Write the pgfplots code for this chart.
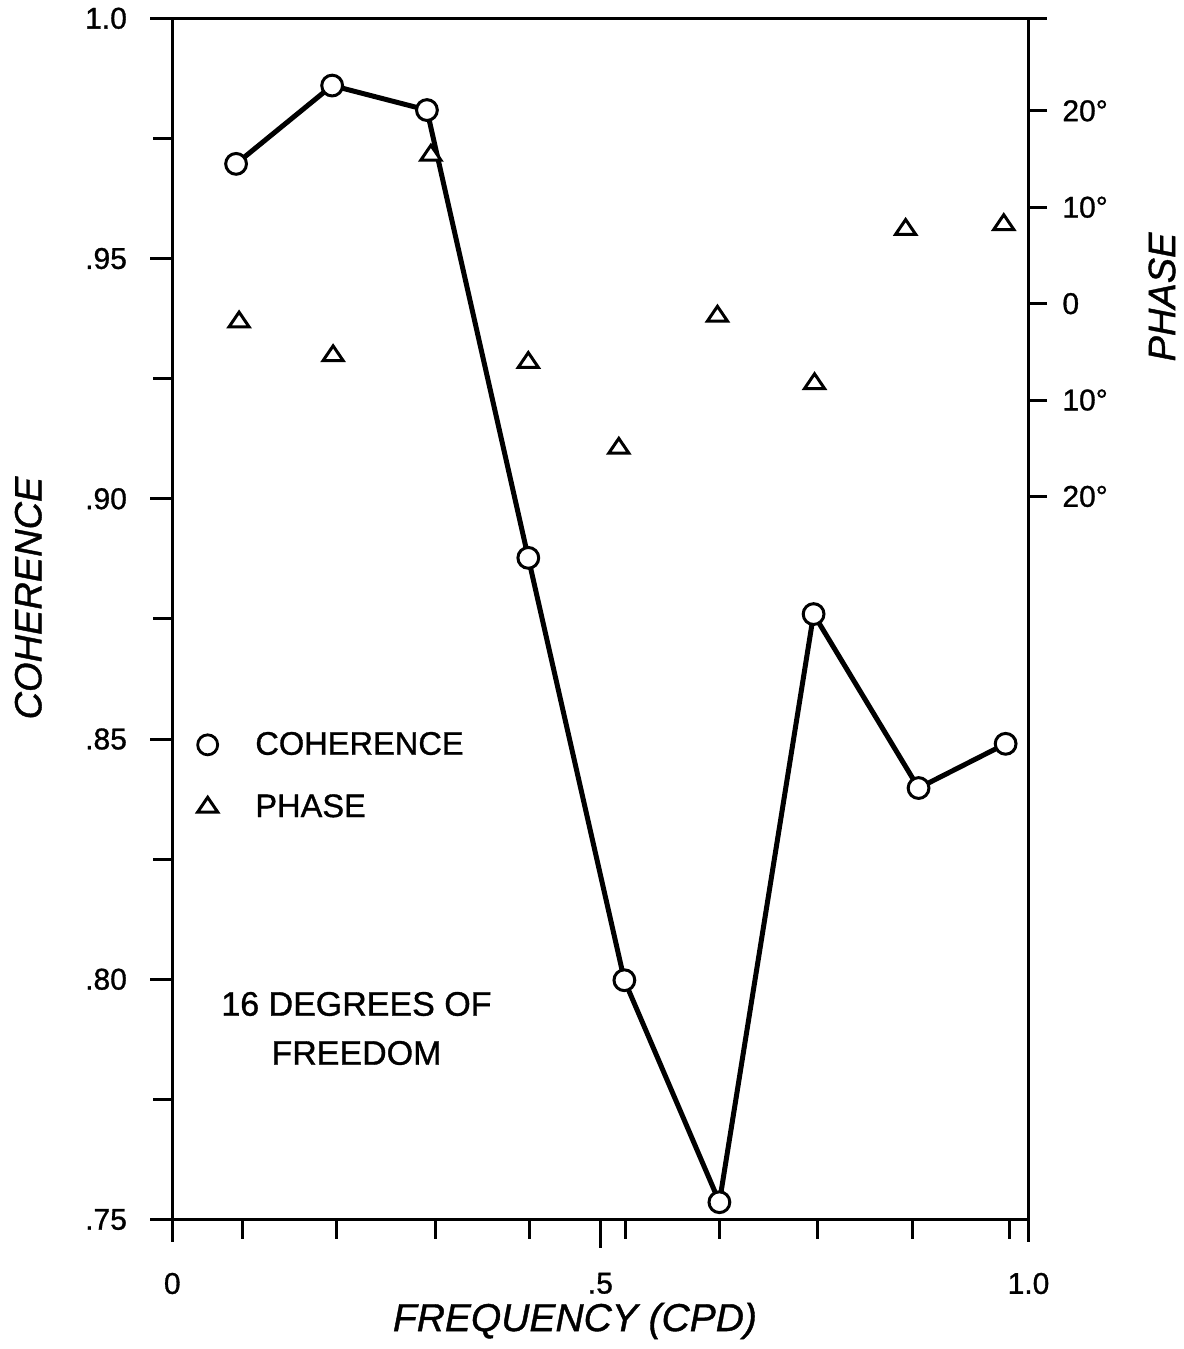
\documentclass[border=0pt]{standalone}
\usepackage{pgfplots}
\pgfplotsset{compat=1.18}
\usepackage{fontspec}
\setmainfont{Liberation Sans}[FakeBold=1.0]
\pgfplotsset{dotlegend/.style={legend image code/.code={\draw[##1] plot coordinates {(0bp,0bp)};}}}
\begin{document}
\begin{tikzpicture}
\begin{axis}[name=main, scale only axis, width=428.1bp, height=600.6bp,
 xmin=0, xmax=1, ymin=0.75, ymax=1.0, clip=false,
 axis line style={line width=1.5bp, black},
 tick style={line width=1.5bp, black},
 tick align=outside, xtick pos=bottom, ytick pos=left,
 major tick length=11bp, minor tick length=9.5bp,
 xtick={0,0.5,1}, xticklabels={0,.5,1.0},
 extra x ticks={0.5}, extra x tick labels={}, extra x tick style={major tick length=14bp},
 minor xtick={0.082,0.192,0.3075,0.417,0.529,0.639,0.754,0.864,0.978},
 ytick={0.75,0.8,0.85,0.9,0.95,1.0}, yticklabels={.75,.80,.85,.90,.95,1.0},
 minor ytick={0.775,0.825,0.875,0.925,0.975},
 ticklabel style={font=\fontsize{15bp}{17bp}\selectfont},
 xticklabel style={anchor=north, inner sep=0pt, yshift=-15.5bp},
 yticklabel style={anchor=east, inner sep=0pt, xshift=-11.5bp},
 xlabel={FREQUENCY (CPD)}, ylabel={COHERENCE},
 every axis x label/.style={at={(axis description cs:0.4703,0)}, yshift=-50.75bp, anchor=center, font=\itshape\fontsize{19.5bp}{22bp}\selectfont},
 every axis y label/.style={at={(axis description cs:-0.1682,0.5174)}, rotate=90, anchor=center, font=\itshape\fontsize{19bp}{22bp}\selectfont},
 legend style={at={(axis cs:0.0296,0.8423)}, anchor=west, draw=none, fill=none, inner sep=0pt, outer sep=0pt,
   font=\fontsize{16.3bp}{19.5bp}\selectfont, row sep=18.3bp, column sep=18.8bp, nodes={inner sep=0pt}},
 legend cell align=left,
]
\addplot[forget plot, black, line width=2.5bp, mark=*, mark size=5.2bp, mark options={fill=white, line width=1.5bp, solid}]
 coordinates {(0.0745,0.9697) (0.1867,0.9860) (0.2974,0.9809) (0.4158,0.8877) (0.528,0.7998) (0.639,0.7536) (0.749,0.8760) (0.8716,0.8398) (0.9733,0.8490)};
\addlegendimage{only marks, black, mark=*, mark size=5bp, mark options={fill=white, line width=1.4bp}, dotlegend}
\addlegendentry{COHERENCE}
\addlegendimage{only marks, black, mark=triangle*, mark size=5.8bp, mark options={fill=white, line width=1.5bp, yscale=0.85}, dotlegend}
\addlegendentry{PHASE}
\node[align=center, font=\fontsize{17bp}{24.5bp}\selectfont] at (axis cs:0.2151,0.78975) {16 DEGREES OF\\FREEDOM};
\end{axis}
\begin{axis}[scale only axis, width=428.1bp, height=600.6bp,
 xmin=0, xmax=1, ymin=-95, ymax=29.6, clip=false, hide x axis,
 axis line style={line width=1.5bp, black},
 tick style={line width=1.5bp, black},
 tick align=outside, ytick pos=right, yticklabel pos=right,
 major tick length=9.25bp,
 ytick={-20,-10,0,10,20}, yticklabels={20°,10°,0,10°,20°},
 yticklabel style={anchor=west, inner sep=0pt, xshift=7.5bp, font=\fontsize{15bp}{17bp}\selectfont},
 ylabel={PHASE},
 every axis y label/.style={at={(axis description cs:1.1559,0.768)}, rotate=90, anchor=center, font=\itshape\fontsize{19bp}{22bp}\selectfont},
]
\addplot[only marks, black, mark=triangle*, mark size=5.8bp, mark options={fill=white, line width=1.5bp, yscale=0.85}]
 coordinates {(0.078,-1.9) (0.1878,-5.4) (0.302,15.4) (0.4158,-6.1) (0.5215,-15.0) (0.6367,-1.3) (0.7501,-8.3) (0.8565,7.7) (0.9711,8.2)};
\end{axis}
\draw[line width=1.5bp] (main.north east) -- ++(9.25bp,0);
\pgfresetboundingbox
\path[use as bounding box] ([shift={(-86.15bp,-64.75bp)}]main.south west) rectangle ([shift={(77.75bp,9.15bp)}]main.north east);
\end{tikzpicture}
\end{document}
